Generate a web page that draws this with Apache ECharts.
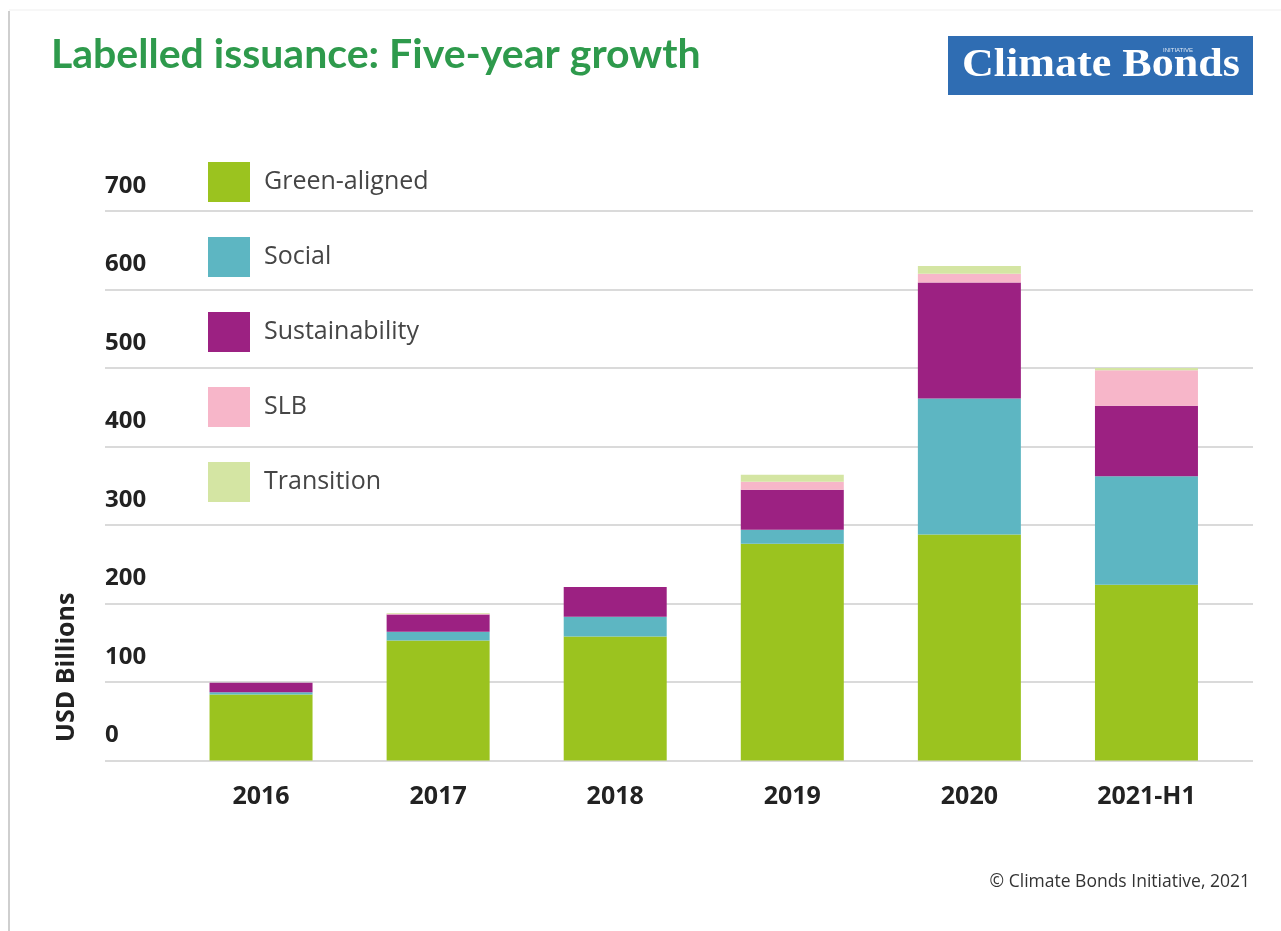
<!DOCTYPE html>
<html>
<head>
<meta charset="utf-8">
<title>Labelled issuance: Five-year growth</title>
<script src="https://cdn.jsdelivr.net/npm/echarts@6/dist/echarts.min.js"></script>
<style>
  html, body { margin: 0; padding: 0; background: #ffffff; }
  #chart { width: 1281px; height: 931px; }
</style>
</head>
<body>
<div id="chart"></div>
<script>
// Labelled bond issuance by theme, USD billions
const years = ['2016', '2017', '2018', '2019', '2020', '2021-H1'];
const greenAligned   = [84, 153, 158, 276, 288, 224];
const social         = [3, 11, 25, 18, 173, 138];
const sustainability = [12, 22, 38, 51, 148, 90];
const slb            = [0, 1, 0, 10, 11, 45];
const transition     = [0, 1, 0, 9, 10, 3];
const yTicks = [0, 100, 200, 300, 400, 500, 600, 700];

const seriesDefs = [
  { name: 'Green-aligned',  data: greenAligned,   color: '#9bc31f' },
  { name: 'Social',         data: social,         color: '#5db6c2' },
  { name: 'Sustainability', data: sustainability, color: '#9c2182' },
  { name: 'SLB',            data: slb,            color: '#f7b6c9' },
  { name: 'Transition',     data: transition,     color: '#d4e5a3' }
];

const chart = echarts.init(document.getElementById('chart'), null, { renderer: 'canvas' });

const yMin = yTicks[0];
const yMax = yTicks[yTicks.length - 1];
const yStep = yTicks[1] - yTicks[0];

const option = {
  backgroundColor: '#ffffff',
  animation: false,
  title: {
    text: 'Labelled issuance: Five-year growth',
    left: 46,
    top: 29,
    textStyle: {
      fontFamily: 'Lato',
      fontWeight: 'bold',
      fontSize: 41,
      color: '#2e9a4c'
    }
  },
  legend: {
    orient: 'vertical',
    left: 208,
    top: 162,
    padding: 0,
    itemWidth: 42,
    itemHeight: 40,
    itemGap: 35,
    icon: 'rect',
    selectedMode: false,
    data: seriesDefs.map(s => s.name),
    textStyle: {
      fontFamily: 'Open Sans',
      fontSize: 25,
      color: '#454545',
      padding: [0, 0, 0, 9]
    }
  },
  grid: [
    // full-width grid carrying the value gridlines and labels
    { left: 105, right: 28, top: 211, bottom: 170.5 },
    // grid holding the stacked bars
    { left: 172.5, right: 46, top: 211, bottom: 170.5 }
  ],
  xAxis: [
    { gridIndex: 0, type: 'value', min: 0, max: 1, show: false },
    {
      gridIndex: 1,
      type: 'category',
      data: years,
      axisLine: { show: false },
      axisTick: { show: false },
      axisLabel: {
        margin: 24,
        fontFamily: 'Open Sans',
        fontWeight: 'bold',
        fontSize: 25,
        color: '#222222'
      }
    }
  ],
  yAxis: [
    {
      gridIndex: 0,
      type: 'value',
      min: yMin,
      max: yMax,
      interval: yStep,
      name: 'USD Billions',
      nameLocation: 'middle',
      nameRotate: 90,
      nameGap: 26,
      nameTextStyle: {
        fontFamily: 'Open Sans',
        fontWeight: 'bold',
        fontSize: 25,
        color: '#222222',
        padding: [0, 0, 0, -363]
      },
      axisLine: { show: false },
      axisTick: { show: false },
      axisLabel: {
        inside: true,
        margin: 0,
        align: 'left',
        verticalAlign: 'bottom',
        lineHeight: 26,
        padding: [0, 0, 12, 0],
        fontFamily: 'Open Sans',
        fontWeight: 'bold',
        fontSize: 24,
        color: '#222222'
      },
      splitLine: { show: true, lineStyle: { color: '#dadada', width: 2 } }
    },
    {
      gridIndex: 1,
      type: 'value',
      min: yMin,
      max: yMax,
      interval: yStep,
      show: false,
      splitLine: { show: false }
    }
  ],
  series: seriesDefs.map(s => ({
    name: s.name,
    type: 'bar',
    stack: 'issuance',
    xAxisIndex: 1,
    yAxisIndex: 1,
    barWidth: 103,
    itemStyle: { color: s.color },
    emphasis: { disabled: true },
    data: s.data
  })),
  graphic: [
    // card edges
    { type: 'line', silent: true, shape: { x1: 9, y1: 11, x2: 9, y2: 931 },
      style: { stroke: '#cfcfcf', lineWidth: 2 } },
    { type: 'line', silent: true, shape: { x1: 9, y1: 10, x2: 1281, y2: 10 },
      style: { stroke: '#efefef', lineWidth: 1 } },
    // logo
    { type: 'rect', silent: true, shape: { x: 948, y: 36, width: 305, height: 59 },
      style: { fill: '#2f6db3' } },
    { type: 'text', silent: true, x: 1101, y: 66, scaleX: 1.13,
      style: { text: 'Climate Bonds', fill: '#ffffff', font: 'bold 39px "Liberation Serif"',
        align: 'center', verticalAlign: 'middle' } },
    { type: 'text', silent: true, x: 1178, y: 50,
      style: { text: 'INITIATIVE', fill: '#dfe8f4', font: '6px "Liberation Sans"',
        align: 'center', verticalAlign: 'middle' } },
    // credit line
    { type: 'text', silent: true, x: 1250, y: 882,
      style: { text: '\u00a9 Climate Bonds Initiative, 2021', fill: '#333333',
        font: '17.5px "Open Sans"', align: 'right', verticalAlign: 'middle' } }
  ]
};

chart.setOption(option);
</script>
</body>
</html>
